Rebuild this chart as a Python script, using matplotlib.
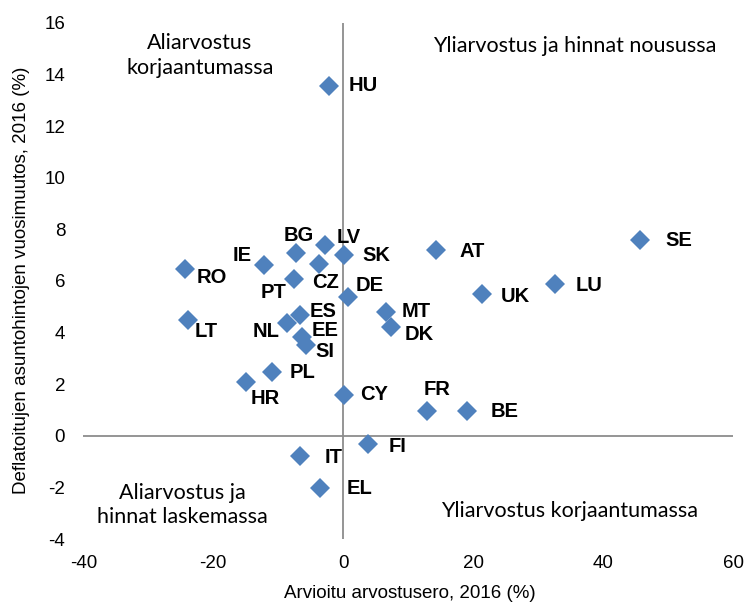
import matplotlib
matplotlib.use("Agg")
import matplotlib.pyplot as plt

plt.rcParams["font.family"] = ["Liberation Sans", "DejaVu Sans"]
plt.rcParams["axes.unicode_minus"] = False

# arvostusero (x) ja deflatoitu asuntohintojen muutos (y), 2016
countries = ["HU", "SE", "AT", "LU", "UK", "FR", "BE", "RO", "IE", "BG", "LV", "CZ", "SK",
             "PT", "DE", "ES", "NL", "EE", "SI", "LT", "PL", "HR", "CY", "MT", "DK",
             "IT", "FI", "EL"]
valuation = [-2.2, 45.6, 14.2, 32.5, 21.3, 12.9, 19.1, -24.4, -12.2, -7.3, -2.8, -3.8, 0.1,
             -7.6, 0.7, -6.7, -8.7, -6.3, -5.8, -23.9, -10.9, -15.0, 0.1, 6.6, 7.4,
             -6.7, 3.8, -3.6]
price_change = [13.55, 7.58, 7.19, 5.87, 5.49, 0.98, 0.98, 6.48, 6.61, 7.08, 7.38, 6.67, 7.0,
                6.09, 5.38, 4.70, 4.39, 3.83, 3.53, 4.48, 2.48, 2.09, 1.6, 4.8, 4.22,
                -0.79, -0.30, -2.01]

# label offsets in pixels (dx, dy, ha)
offsets = {
    "HU": (20, 0, "left"), "SE": (26, 0, "left"), "AT": (24, -1, "left"),
    "LU": (21, -1, "left"), "UK": (19, -2, "left"), "FR": (-4, 21, "left"),
    "BE": (23, -1, "left"), "RO": (12, -9, "left"), "IE": (-12, 10, "right"),
    "BG": (3, 18, "center"), "LV": (12, 8, "left"), "CZ": (7, -19, "center"),
    "SK": (18, 0, "left"), "PT": (-7, -14, "right"), "DE": (8, 12, "left"),
    "ES": (10, 3, "left"), "NL": (-7, -9, "right"), "EE": (9, 7, "left"),
    "SI": (10, -7, "left"), "LT": (7, -11, "left"), "PL": (17, -1, "left"),
    "HR": (5, -17, "left"), "CY": (16, 0, "left"), "MT": (15, 0, "left"),
    "DK": (13, -8, "left"), "IT": (25, -1, "left"), "FI": (21, -3, "left"),
    "EL": (27, -1, "left"),
}

W, H = 745, 607
fig = plt.figure(figsize=(W / 100, H / 100), dpi=100)
ax = fig.add_axes([83.3 / W, 1 - 539.3 / H, 650 / W, (539.3 - 22.7) / H])

ax.axhline(0, color="#8c8c8c", lw=1.3, zorder=1)
ax.axvline(0, color="#8c8c8c", lw=1.3, zorder=1)
ax.plot(valuation, price_change, linestyle="none", marker="D", ms=10.2,
        mew=0, color="#4f81bd", zorder=3)

for c, x, y in zip(countries, valuation, price_change):
    dx, dy, ha = offsets[c]
    ax.annotate(c, (x, y), xytext=(dx, dy), textcoords="offset pixels",
                ha=ha, va="center", fontsize=14.5, fontweight="bold", zorder=4)

ax.set_xlim(-40, 60)
ax.set_ylim(-4, 16)
ax.set_xticks(range(-40, 61, 20))
ax.set_yticks(range(-4, 17, 2))
for s in ax.spines.values():
    s.set_visible(False)
ax.tick_params(length=0, labelsize=13.5)
ax.tick_params(axis="y", pad=13)
ax.tick_params(axis="x", pad=11)

fig.text(410 / W, 1 - 593 / H, "Arvioitu arvostusero, 2016 (%)", fontsize=13.5,
         ha="center", va="center")
fig.text(22 / W, 1 - 280 / H, "Deflatoitujen asuntohintojen vuosimuutos, 2016 (%)",
         fontsize=13.5, ha="center", va="center", rotation=90)

qfont = dict(fontsize=15.5, family=["Lato", "DejaVu Sans"], linespacing=1.3)
fig.text(200 / W, 1 - 55.3 / H, "Aliarvostus\nkorjaantumassa", ha="center", va="center", **qfont)
fig.text(433.3 / W, 1 - 45.7 / H, "Yliarvostus ja hinnat nousussa", ha="left", va="center", **qfont)
fig.text(182.5 / W, 1 - 505 / H, "Aliarvostus ja\nhinnat laskemassa", ha="center", va="center", **qfont)
fig.text(570 / W, 1 - 511 / H, "Yliarvostus korjaantumassa", ha="center", va="center", **qfont)

fig.savefig("out.png", dpi=100)
